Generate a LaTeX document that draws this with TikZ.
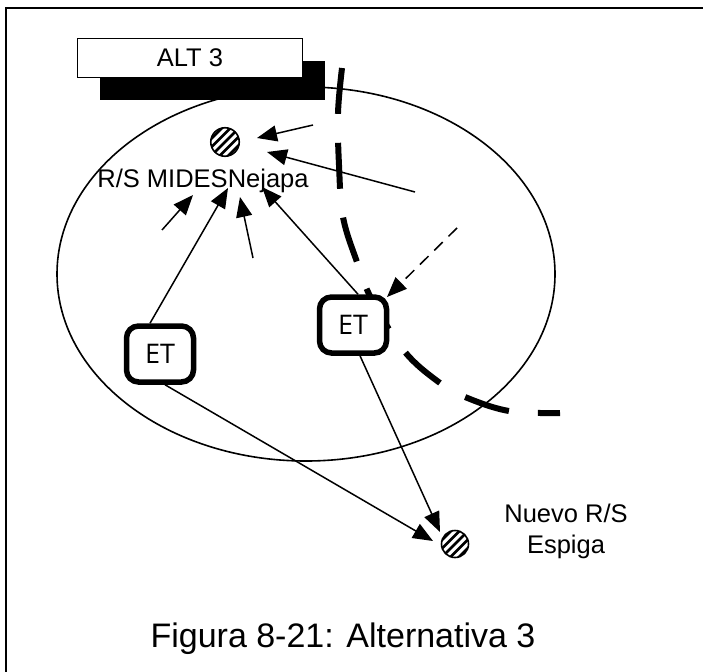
\documentclass[tikz,border=0pt]{standalone}
\usepackage{fontspec}
\setmainfont{Liberation Sans}
\newfontfamily\etfont{Open Sans}
\usetikzlibrary{arrows.meta}
\begin{document}
\begin{tikzpicture}[x=1pt,y=-1pt,
  arr/.style={line width=1.5pt,-{Triangle[length=20pt,width=16pt]}},
  darr/.style={arr,dash pattern=on 12pt off 8pt},
  etbox/.style={draw,line width=5.5pt,rounded corners=12pt,fill=white,
    minimum width=67pt,minimum height=56pt,inner sep=0pt,
    font=\etfont\fontsize{27}{32}\selectfont},
  site/.style={circle,draw,line width=1.6pt,inner sep=0pt,
    path picture={\foreach \i in {-3,...,3}{\draw[line width=2.6pt]
      ([shift={(\i*8.5pt-20pt,-20pt)}]path picture bounding box.center) -- ++(40pt,40pt);}}},
  lab/.style={font=\fontsize{25.5}{31}\selectfont},
  bigdash/.style={line width=6pt,dash pattern=on 46pt off 29pt},
]
\useasboundingbox (0,0) rectangle (703,671);
% frame
\draw[line width=2.5pt] (6,675) -- (6,8) -- (707,8);
% title box with shadow
\fill (100,61) rectangle (325,100);
\node[draw,line width=1.5pt,fill=white,minimum width=225pt,minimum height=39pt,lab] (alt) at (190,58) {ALT 3};
% area ellipse
\draw[line width=1.6pt] (306,274) ellipse [x radius=249pt, y radius=187pt];
% thick dashed boundary
\draw[bigdash] plot[smooth,tension=0.6] coordinates {(342,68) (338,113) (339,165) (343,217) (357,262) (372,300) (405,352) (440,383) (465,397) (509,411) (560,413)};
% sites
\node[site,minimum size=28.5pt] (rs1) at (225,142) {};
\node[site,minimum size=27pt] (rs2) at (455,544) {};
% labels
\node[lab,anchor=base] (rsl) at (203,187) {R/S MIDESNejapa};
\node[lab,align=center] (nuevo) at (566,531) {Nuevo R/S\\Espiga};
\node[font=\fontsize{34}{40}\selectfont,anchor=base] (cap) at (343,647) {Figura 8-21: Alternativa 3};
% transfer stations
\node[etbox] (etL) at (160,354) {ET};
\node[etbox] (etR) at (353,325) {ET};
% coordinates of free arrow ends
\coordinate (t1) at (228,188);
\coordinate (s2) at (162,230); \coordinate (t2) at (193,195);
\coordinate (s3) at (253,258); \coordinate (t3) at (240,197);
\coordinate (t4) at (262,187);
\coordinate (s5) at (313,125); \coordinate (t5) at (257,138);
\coordinate (s6) at (415,192); \coordinate (t6) at (267,152);
\coordinate (s7) at (457,228); \coordinate (t7) at (387,297);
\coordinate (t8) at (433,541);
\coordinate (t9) at (440,532);
% arrows
\draw[arr] ([xshift=-10pt]etL.north) -- (t1);
\draw[arr] (s2) -- (t2);
\draw[arr] (s3) -- (t3);
\draw[arr] ([xshift=5pt]etR.north) -- (t4);
\draw[arr] (s5) -- (t5);
\draw[arr] (s6) -- (t6);
\draw[darr] (s7) -- (t7);
\draw[arr] ([xshift=5pt]etL.south) -- (t8);
\draw[arr] ([xshift=7pt]etR.south) -- (t9);
\end{tikzpicture}
\end{document}
